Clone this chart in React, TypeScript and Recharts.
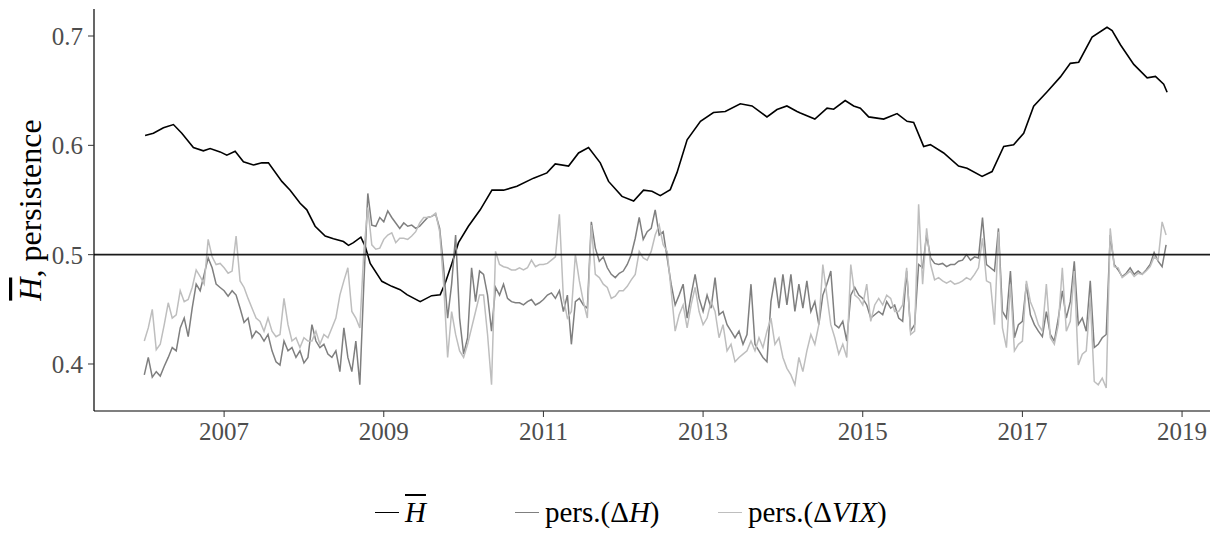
import React from "react";
import { LineChart, Line, XAxis, YAxis, ReferenceLine } from "recharts";

// H-bar (smooth)
const hbarYears = [
  2006.01, 2006.114, 2006.24, 2006.365, 2006.47, 2006.615, 2006.74, 2006.825, 2006.95, 2007.034,
  2007.138, 2007.242, 2007.367, 2007.472, 2007.555, 2007.723, 2007.827, 2007.952, 2008.036, 2008.14,
  2008.266, 2008.37, 2008.495, 2008.558, 2008.62, 2008.713, 2008.767, 2008.83, 2008.976, 2009.1,
  2009.205, 2009.29, 2009.456, 2009.6, 2009.707, 2009.77, 2009.853, 2009.936, 2010.06, 2010.208,
  2010.355, 2010.5, 2010.668, 2010.876, 2011.044, 2011.148, 2011.315, 2011.44, 2011.565, 2011.712,
  2011.816, 2011.984, 2012.13, 2012.254, 2012.36, 2012.464, 2012.589, 2012.673, 2012.8, 2012.967,
  2013.13, 2013.278, 2013.466, 2013.613, 2013.8, 2013.926, 2014.05, 2014.177, 2014.218, 2014.4,
  2014.553, 2014.636, 2014.78, 2014.886, 2014.97, 2015.074, 2015.262, 2015.43, 2015.555, 2015.638,
  2015.763, 2015.847, 2016.014, 2016.2, 2016.307, 2016.495, 2016.62, 2016.766, 2016.89, 2017.016,
  2017.141, 2017.31, 2017.476, 2017.6, 2017.705, 2017.873, 2018.06, 2018.124, 2018.228, 2018.395,
  2018.563, 2018.667, 2018.77, 2018.813,
];
const hbarValues = [
  0.609, 0.611, 0.616, 0.619, 0.611, 0.598, 0.595, 0.597, 0.594, 0.591,
  0.5945, 0.585, 0.582, 0.584, 0.584, 0.567, 0.559, 0.547, 0.541, 0.526,
  0.517, 0.5146, 0.512, 0.5085, 0.511, 0.516, 0.5076, 0.492, 0.4756, 0.471,
  0.468, 0.4634, 0.457, 0.4625, 0.4634, 0.474, 0.492, 0.511, 0.526, 0.541,
  0.559, 0.559, 0.5625, 0.57, 0.5748, 0.583, 0.581, 0.593, 0.598, 0.584,
  0.567, 0.5533, 0.549, 0.559, 0.558, 0.554, 0.5595, 0.575, 0.605, 0.622,
  0.63, 0.631, 0.638, 0.636, 0.626, 0.6327, 0.636, 0.631, 0.6296, 0.624,
  0.634, 0.633, 0.641, 0.636, 0.634, 0.626, 0.624, 0.629, 0.622, 0.621,
  0.599, 0.6006, 0.593, 0.581, 0.579, 0.5716, 0.576, 0.599, 0.6006, 0.611,
  0.6357, 0.649, 0.6626, 0.675, 0.676, 0.699, 0.708, 0.705, 0.692, 0.674,
  0.6617, 0.663, 0.656, 0.6485,
];

// persistence series, sampled every 0.05 year from 2006.0
const persStart = 2006.0;
const persStep = 0.05;

const persDH = [
  0.390, 0.406, 0.388, 0.393, 0.389, 0.398, 0.406, 0.415, 0.412, 0.433,
  0.442, 0.425, 0.451, 0.473, 0.467, 0.482, 0.497, 0.488, 0.473, 0.470,
  0.467, 0.462, 0.467, 0.463, 0.451, 0.438, 0.442, 0.424, 0.430, 0.427,
  0.421, 0.427, 0.412, 0.402, 0.399, 0.421, 0.412, 0.415, 0.406, 0.412,
  0.401, 0.406, 0.436, 0.421, 0.415, 0.418, 0.409, 0.406, 0.412, 0.393,
  0.433, 0.406, 0.393, 0.421, 0.381, 0.473, 0.556, 0.527, 0.526, 0.534,
  0.530, 0.540, 0.534, 0.529, 0.524, 0.529, 0.526, 0.527, 0.524, 0.526,
  0.530, 0.534, 0.535, 0.537, 0.524, 0.488, 0.442, 0.473, 0.518, 0.442,
  0.409, 0.424, 0.488, 0.457, 0.485, 0.482, 0.463, 0.430, 0.470, 0.463,
  0.473, 0.460, 0.457, 0.456, 0.456, 0.454, 0.457, 0.459, 0.454, 0.456,
  0.459, 0.463, 0.465, 0.460, 0.467, 0.448, 0.463, 0.418, 0.457, 0.460,
  0.454, 0.451, 0.530, 0.506, 0.494, 0.498, 0.488, 0.482, 0.479, 0.483,
  0.485, 0.491, 0.500, 0.515, 0.534, 0.514, 0.521, 0.524, 0.541, 0.518,
  0.521, 0.497, 0.473, 0.454, 0.463, 0.473, 0.442, 0.463, 0.482, 0.460,
  0.448, 0.463, 0.451, 0.479, 0.445, 0.448, 0.436, 0.430, 0.424, 0.430,
  0.418, 0.427, 0.473, 0.418, 0.412, 0.406, 0.402, 0.457, 0.479, 0.451,
  0.482, 0.454, 0.482, 0.448, 0.473, 0.451, 0.476, 0.448, 0.457, 0.436,
  0.463, 0.473, 0.485, 0.436, 0.433, 0.439, 0.421, 0.463, 0.470, 0.463,
  0.460, 0.454, 0.442, 0.445, 0.448, 0.445, 0.457, 0.451, 0.454, 0.442,
  0.439, 0.485, 0.430, 0.436, 0.491, 0.488, 0.518, 0.497, 0.492, 0.491,
  0.492, 0.489, 0.491, 0.491, 0.494, 0.495, 0.500, 0.495, 0.498, 0.497,
  0.534, 0.491, 0.488, 0.485, 0.524, 0.448, 0.442, 0.485, 0.424, 0.436,
  0.439, 0.473, 0.445, 0.436, 0.430, 0.425, 0.448, 0.427, 0.421, 0.442,
  0.467, 0.442, 0.457, 0.494, 0.436, 0.442, 0.430, 0.476, 0.415, 0.418,
  0.424, 0.427, 0.518, 0.491, 0.486, 0.480, 0.483, 0.488, 0.482, 0.485,
  0.482, 0.486, 0.491, 0.502, 0.494, 0.489, 0.509,
];

const persDVIX = [
  0.421, 0.433, 0.450, 0.413, 0.418, 0.436, 0.456, 0.442, 0.445, 0.467,
  0.457, 0.459, 0.470, 0.486, 0.480, 0.473, 0.514, 0.498, 0.491, 0.492,
  0.488, 0.483, 0.485, 0.517, 0.476, 0.470, 0.460, 0.451, 0.442, 0.439,
  0.430, 0.442, 0.430, 0.425, 0.427, 0.460, 0.436, 0.421, 0.424, 0.415,
  0.424, 0.421, 0.421, 0.430, 0.418, 0.427, 0.424, 0.433, 0.442, 0.463,
  0.476, 0.488, 0.448, 0.442, 0.433, 0.503, 0.543, 0.509, 0.505, 0.506,
  0.514, 0.518, 0.520, 0.511, 0.515, 0.515, 0.514, 0.517, 0.521, 0.529,
  0.534, 0.534, 0.535, 0.538, 0.521, 0.473, 0.406, 0.448, 0.427, 0.412,
  0.406, 0.418, 0.433, 0.448, 0.463, 0.463, 0.427, 0.381, 0.503, 0.491,
  0.489, 0.488, 0.486, 0.486, 0.488, 0.486, 0.488, 0.495, 0.489, 0.491,
  0.491, 0.492, 0.495, 0.498, 0.537, 0.460, 0.442, 0.448, 0.500, 0.476,
  0.457, 0.442, 0.527, 0.482, 0.479, 0.473, 0.470, 0.460, 0.462, 0.467,
  0.467, 0.471, 0.477, 0.482, 0.503, 0.497, 0.495, 0.503, 0.518, 0.527,
  0.509, 0.503, 0.467, 0.430, 0.445, 0.454, 0.433, 0.454, 0.470, 0.448,
  0.436, 0.442, 0.457, 0.448, 0.424, 0.436, 0.412, 0.418, 0.402, 0.406,
  0.409, 0.412, 0.421, 0.412, 0.424, 0.415, 0.430, 0.442, 0.418, 0.424,
  0.406, 0.396, 0.390, 0.381, 0.406, 0.393, 0.412, 0.427, 0.418, 0.436,
  0.491, 0.463, 0.436, 0.424, 0.409, 0.418, 0.406, 0.491, 0.463, 0.460,
  0.454, 0.473, 0.439, 0.454, 0.460, 0.454, 0.463, 0.460, 0.448, 0.448,
  0.454, 0.488, 0.427, 0.430, 0.546, 0.473, 0.524, 0.491, 0.477, 0.479,
  0.476, 0.474, 0.476, 0.473, 0.474, 0.476, 0.479, 0.477, 0.482, 0.488,
  0.515, 0.476, 0.474, 0.436, 0.521, 0.433, 0.415, 0.473, 0.412, 0.418,
  0.421, 0.476, 0.457, 0.448, 0.436, 0.430, 0.473, 0.424, 0.418, 0.436,
  0.488, 0.430, 0.439, 0.485, 0.399, 0.409, 0.412, 0.460, 0.384, 0.381,
  0.387, 0.378, 0.524, 0.489, 0.488, 0.479, 0.482, 0.485, 0.480, 0.483,
  0.482, 0.485, 0.489, 0.498, 0.495, 0.530, 0.518,
];

const xTicks = [2007, 2009, 2011, 2013, 2015, 2017, 2019];
const yTicks = [0.4, 0.5, 0.6, 0.7];

const hbarData = hbarYears.map((x, i) => ({ x, v: hbarValues[i] }));
const dhData = persDH.map((v, i) => ({ x: persStart + i * persStep, v }));
const dvixData = persDVIX.map((v, i) => ({ x: persStart + i * persStep, v }));

const FONT = "'Liberation Serif', 'Times New Roman', serif";
const BLACK = "#000000";
const DARK = "#7f7f7f";
const LIGHT = "#bebebe";

function YLabel(props: any) {
  const vb = props.viewBox || { x: 0, y: 9, width: 94, height: 402 };
  const cx = 41;
  const cy = vb.y + vb.height / 2;
  return (
    <text
      x={cx}
      y={cy}
      transform={`rotate(-90, ${cx}, ${cy})`}
      textAnchor="middle"
      fontFamily={FONT}
      fontSize={32}
      fill="#000"
    >
      <tspan fontStyle="italic" style={{ textDecoration: "overline" }}>H</tspan>
      <tspan>, persistence</tspan>
    </text>
  );
}

function LegendItem({ color, left, children }: { color: string; left: number; children: React.ReactNode }) {
  return (
    <div style={{ position: "absolute", left, top: 494, height: 36, display: "flex", alignItems: "center" }}>
      <div style={{ width: 24, height: 0, borderTop: `1.6px solid ${color}`, marginRight: 6 }} />
      <span style={{ fontFamily: FONT, fontSize: 29, color: "#000", whiteSpace: "nowrap" }}>{children}</span>
    </div>
  );
}

export default function App() {
  return (
    <div style={{ position: "absolute", left: 0, top: 0, width: 1214, height: 535, background: "#fff" }}>
      <LineChart width={1214} height={535} margin={{ top: 9, right: 4, left: 0, bottom: 0 }}>
        <XAxis
          type="number"
          dataKey="x"
          domain={[2005.37, 2019.35]}
          ticks={xTicks}
          allowDataOverflow
          height={124}
          tickSize={6}
          tickMargin={5}
          stroke={BLACK}
          tick={{ fill: "#4d4d4d", fontSize: 25, fontFamily: FONT }}
          tickLine={{ stroke: "#333" }}
          axisLine={{ stroke: BLACK, strokeWidth: 1.2 }}
        />
        <YAxis
          type="number"
          domain={[0.357, 0.7247]}
          ticks={yTicks}
          allowDataOverflow
          width={94}
          tickSize={6}
          tickMargin={5}
          tickFormatter={(v: number) => v.toFixed(1)}
          tick={{ fill: "#4d4d4d", fontSize: 25, fontFamily: FONT }}
          tickLine={{ stroke: "#333" }}
          axisLine={{ stroke: BLACK, strokeWidth: 1.2 }}
          label={<YLabel />}
        />
        <Line data={hbarData} dataKey="v" type="linear" stroke={BLACK} strokeWidth={1.6} dot={false} isAnimationActive={false} />
        <Line data={dhData} dataKey="v" type="linear" stroke={DARK} strokeWidth={1.5} dot={false} isAnimationActive={false} />
        <Line data={dvixData} dataKey="v" type="linear" stroke={LIGHT} strokeWidth={1.5} dot={false} isAnimationActive={false} />
        <ReferenceLine y={0.5} stroke="#1a1a1a" strokeWidth={1.6} />
      </LineChart>
      <LegendItem color={BLACK} left={375}>
        <i style={{ textDecoration: "overline" }}>H</i>
      </LegendItem>
      <LegendItem color={DARK} left={515}>
        pers.(Δ<i>H</i>)
      </LegendItem>
      <LegendItem color={LIGHT} left={718}>
        pers.(Δ<i>VIX</i>)
      </LegendItem>
    </div>
  );
}
